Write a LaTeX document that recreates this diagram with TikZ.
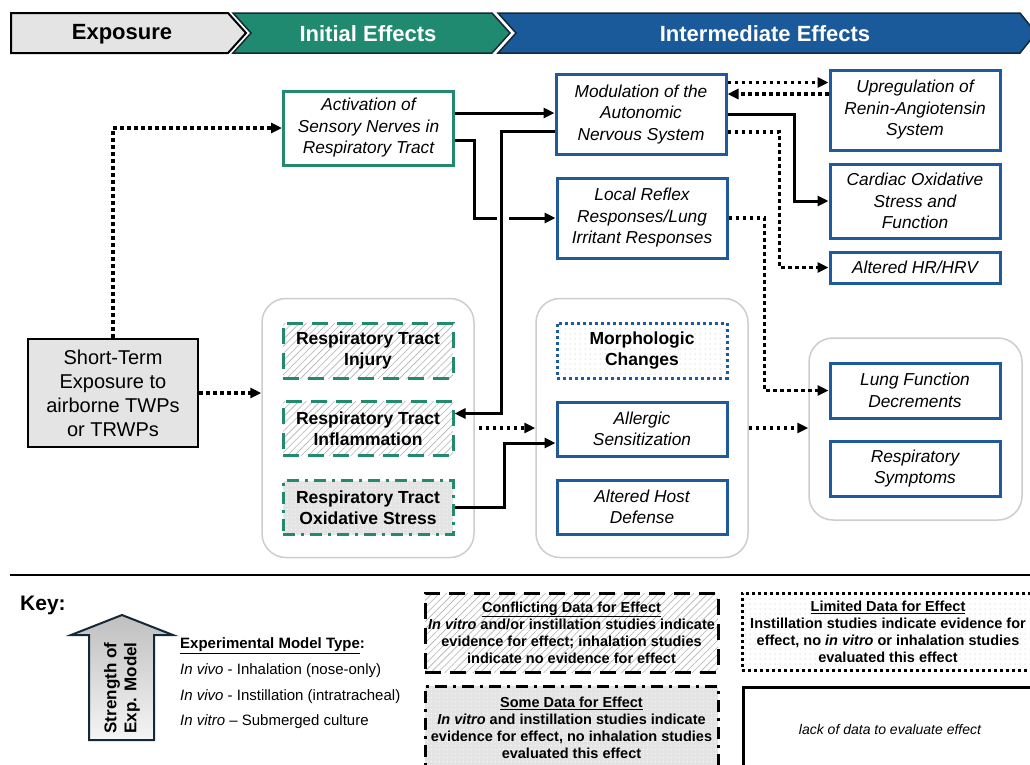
\documentclass[tikz,border=0pt]{standalone}
\usepackage{fontspec}
\setmainfont{Liberation Sans}
\usetikzlibrary{arrows.meta,patterns.meta,calc}
\definecolor{cgreen}{RGB}{35,137,111}
\definecolor{cblue}{RGB}{31,91,156}
\definecolor{hgreen}{RGB}{31,138,112}
\definecolor{hblue}{RGB}{27,90,154}
\definecolor{hdark}{RGB}{20,40,55}
\definecolor{ggrey}{RGB}{205,205,205}
\definecolor{sgrey}{RGB}{228,228,228}
\begin{document}
\begin{tikzpicture}[x=1pt,y=-1pt,
  bx/.style={minimum width=170pt, inner sep=2pt, align=center, line width=3pt},
  itf/.style={font=\fontsize{17.3}{21.5}\selectfont\itshape},
  bff/.style={font=\fontsize{17.5}{21}\selectfont\bfseries},
  bluebox/.style={bx, itf, draw=cblue, fill=white},
  greenbox/.style={bx, itf, draw=cgreen, fill=white},
  hatchbox/.style={bx, bff, draw=cgreen, dash pattern=on 16pt off 9pt, preaction={fill=white},
     pattern={Lines[angle=45,distance=5pt,line width=0.6pt]}, pattern color=gray!60},
  dotgreybox/.style={bx, bff, draw=cgreen, dash pattern=on 12pt off 6pt on 3pt off 6pt, preaction={fill=sgrey},
     pattern={Dots[distance=4pt,radius=0.6pt]}, pattern color=white},
  dotbluebox/.style={bx, bff, draw=cblue, dash pattern=on 3pt off 3pt, preaction={fill=white},
     pattern={Dots[distance=5pt,radius=0.5pt]}, pattern color=gray!60},
  grp/.style={draw=ggrey, line width=1.5pt, rounded corners=24pt, fill=white},
  sol/.style={line width=3pt, line join=miter, -{Triangle[length=11pt,width=10pt]}},
  dot/.style={line width=3.5pt, dash pattern=on 3.5pt off 3.5pt, -{Triangle[length=11pt,width=10pt]}},
  legf/.style={font=\fontsize{14.5}{17}\selectfont\bfseries, align=center, line width=3pt, inner sep=2pt},
  hdr/.style={font=\fontsize{22}{26}\selectfont\bfseries}
]
\useasboundingbox (0,0) rectangle (1030,764);
\clip (0,0) rectangle (1030,764);

% header
\draw[fill=hblue, draw=hdark, line width=1.5pt] (498,13) -- (1020,13) -- (1036,33) -- (1020,53) -- (498,53) -- (516,33) -- cycle;
\draw[fill=hgreen, draw=hdark, line width=1.5pt] (233,13) -- (492,13) -- (510,33) -- (492,53) -- (233,53) -- (251,33) -- cycle;
\draw[fill=sgrey, draw=black, line width=2pt] (11,13) -- (228,13) -- (246,33) -- (228,53) -- (11,53) -- cycle;
\node[hdr] (hexp) at (122,34) {Exposure};
\node[hdr, text=white] (hini) at (368,34) {Initial Effects};
\node[hdr, text=white] (hint) at (765,34) {Intermediate Effects};

% groups
\node[grp, minimum width=212pt, minimum height=259pt] (g1) at (368,428) {};
\node[grp, minimum width=212pt, minimum height=259pt] (g2) at (642,428) {};
\node[grp, minimum width=213pt, minimum height=182pt] (g3) at (915.5,429) {};

% nodes
\node[draw=black, line width=2.5pt, fill=sgrey, minimum width=170pt, minimum height=108pt, align=center,
  font=\fontsize{20}{24}\selectfont] (ste) at (113,393) {Short-Term\\Exposure to\\airborne TWPs\\or TRWPs};
\node[greenbox, minimum height=74pt] (act) at (368.5,128) {Activation of\\Sensory Nerves in\\Respiratory Tract};
\node[bluebox, minimum height=80pt] (mod) at (641,114.5) {Modulation of the\\Autonomic\\Nervous System};
\node[bluebox, minimum height=80pt] (loc) at (642,218) {Local Reflex\\Responses/Lung\\Irritant Responses};
\node[bluebox, minimum height=80pt] (upr) at (915,110) {Upregulation of\\Renin-Angiotensin\\System};
\node[bluebox, minimum height=74pt] (car) at (915,201) {Cardiac Oxidative\\Stress and\\Function};
\node[bluebox, minimum height=31pt] (hrv) at (915,267.5) {Altered HR/HRV};
\node[hatchbox, minimum height=55pt] (inj) at (368,350.5) {Respiratory Tract\\Injury};
\node[hatchbox, minimum height=54pt] (inf) at (368,428.5) {Respiratory Tract\\Inflammation};
\node[dotgreybox, minimum height=54pt] (oxs) at (368,507.5) {Respiratory Tract\\Oxidative Stress};
\node[dotbluebox, minimum height=55pt] (mor) at (642,350.5) {Morphologic\\Changes};
\node[bluebox, minimum height=54pt] (all) at (642,429) {Allergic\\Sensitization};
\node[bluebox, minimum height=54pt] (ahd) at (642,507) {Altered Host\\Defense};
\node[bluebox, minimum height=55pt] (lfd) at (915,390.5) {Lung Function\\Decrements};
\node[bluebox, minimum height=55pt] (rsy) at (915,468.5) {Respiratory\\Symptoms};

% connectors
\draw[dot] (ste.north) |- (act.west);
\draw[dot] (ste.east) -- (ste.east -| g1.west);
\coordinate (a1) at ($(act.east)+(0,-15)$);
\draw[sol] (a1) -- (a1 -| mod.west);
\coordinate (a2) at ($(act.east)+(0,12)$);
\coordinate (bxp) at ($(loc.west)+(-81,0)$);
\draw[sol] (a2) -| (bxp) -- (loc.west);
\fill[white] (497,213.5) rectangle (509,222.5);
\coordinate (m1) at ($(mod.west)+(0,17)$);
\coordinate (i1) at ($(inf.east)+(0,-15)$);
\coordinate (vx) at ($(m1)+(-53,0)$);
\draw[sol] (m1) -- (vx) |- (i1);
\coordinate (m2) at ($(mod.east)+(0,-32)$);
\draw[dot] (m2) -- (m2 -| upr.west);
\coordinate (u1) at ($(upr.west)+(0,-16)$);
\draw[dot] (u1) -- (u1 -| mod.east);
\draw[sol] (mod.east) -- ++(67,0) |- (car.west);
\coordinate (m4) at ($(mod.east)+(0,17.5)$);
\draw[dot] (m4) -- ++(52,0) |- (hrv.west);
\draw[dot] (loc.east) -- ++(36,0) |- (lfd.west);
\draw[dot, shorten <=4pt] (g1.east) -- (g2.west);
\coordinate (al) at ($(all.west)+(0,14)$);
\draw[sol] (oxs.east) -- ++(50,0) |- (al);
\draw[dot] (g2.east) -- (g2.east -| g3.west);

% separator
\draw[line width=2pt] (10,575) -- (1030,575);

% key
\node[anchor=west, inner sep=0pt, font=\fontsize{21}{25}\selectfont\bfseries] (key) at (20,605) {Key:};
\draw[draw=hdark, line width=2pt, top color=gray!50, bottom color=gray!8]
  (89,740) -- (89,635) -- (71,635) -- (122,615) -- (173,635) -- (154,635) -- (154,740) -- cycle;
\node[rotate=90, align=center, font=\fontsize{17}{20}\selectfont\bfseries] (str) at (122,688) {Strength of\\Exp. Model};
\node[anchor=west, inner sep=0pt, font=\fontsize{15}{18}\selectfont\bfseries] (emt) at (180,646) {\underline{Experimental Model Type}:};
\node[anchor=west, inner sep=0pt, font=\fontsize{15}{18}\selectfont] (l1) at (180,671) {\textit{In vivo} - Inhalation (nose-only)};
\node[anchor=west, inner sep=0pt, font=\fontsize{15}{18}\selectfont] (l2) at (180,697) {\textit{In vivo} - Instillation (intratracheal)};
\node[anchor=west, inner sep=0pt, font=\fontsize{15}{18}\selectfont] (l3) at (180,722) {\textit{In vitro} – Submerged culture};

\node[legf, draw=black, dash pattern=on 16pt off 9pt, preaction={fill=white},
  pattern={Lines[angle=45,distance=5pt,line width=0.6pt]}, pattern color=gray!60,
  minimum width=293pt, minimum height=79pt] (lc) at (571.5,632.5)
  {\underline{Conflicting Data for Effect}\\\textit{In vitro} and/or instillation studies indicate\\evidence for effect; inhalation studies\\indicate no evidence for effect};
\node[legf, draw=black, dash pattern=on 12pt off 6pt on 3pt off 6pt, preaction={fill=sgrey},
  pattern={Dots[distance=4pt,radius=0.6pt]}, pattern color=white,
  minimum width=293pt, minimum height=84pt] (ls) at (571.5,728)
  {\underline{Some Data for Effect}\\\textit{In vitro} and instillation studies indicate\\evidence for effect, no inhalation studies\\evaluated this effect};
\node[legf, draw=black, dash pattern=on 3pt off 3pt, preaction={fill=white},
  pattern={Dots[distance=5pt,radius=0.5pt]}, pattern color=gray!60,
  minimum width=292pt, minimum height=77pt] (ll) at (888,631.5)
  {\underline{Limited Data for Effect}\\Instillation studies indicate evidence for\\effect, no \textit{in vitro} or inhalation studies\\evaluated this effect};
\node[draw=black, line width=3pt, minimum width=294pt, minimum height=84pt,
  font=\fontsize{14}{17}\selectfont\itshape] (lk) at (890,729) {lack of data to evaluate effect};
\end{tikzpicture}
\end{document}
